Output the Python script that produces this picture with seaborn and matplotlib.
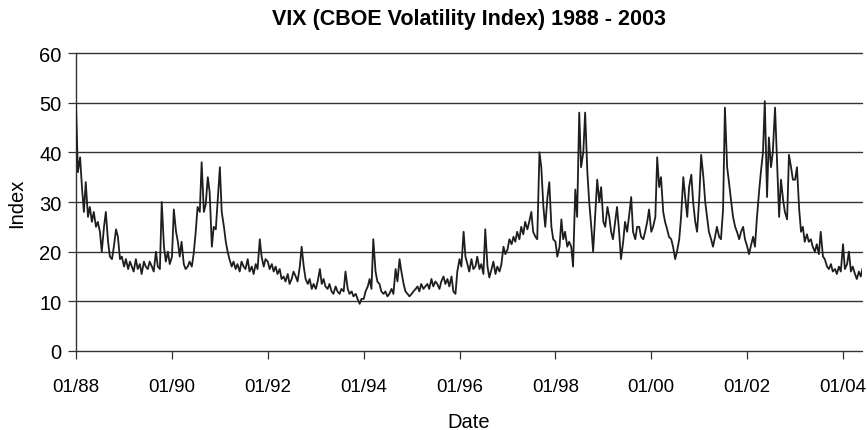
import pandas as pd
import matplotlib
matplotlib.use("Agg")
import matplotlib.pyplot as plt
import matplotlib.dates as mdates
import seaborn as sns

vix_1988 = [49.5, 36, 39, 33, 28, 34, 27, 29, 26, 28, 25, 26, 24, 20, 25, 28, 22, 19, 18.5, 21, 24.5, 23, 18.5, 19]
vix_1989 = [17, 18.5, 16.5, 18, 17, 16, 18.5, 16.5, 17.5, 15.5, 18, 17, 16.5, 18, 17, 16, 20, 17, 16.5, 30, 21, 18, 20, 17.5]
vix_1990 = [19, 28.5, 24, 22, 19, 22, 17.5, 16.5, 17, 18, 17, 19.5, 24, 29, 28, 38, 28, 29.5, 35, 32, 21, 25, 24.5, 30]
vix_1991 = [37, 28, 25, 22, 20, 18.5, 17, 18, 16.5, 17.5, 16, 18, 17, 16.5, 18.5, 16, 17, 15.5, 17.5, 16.5, 22.5, 19, 17, 18.5]
vix_1992 = [18, 16.5, 17.5, 16, 17, 15.5, 16.5, 14.5, 15, 14, 15.5, 13.5, 14.5, 16, 15, 14, 17, 21, 17, 14.5, 13.5, 14.5, 12.5, 13.5]
vix_1993 = [12.5, 14, 16.5, 13.5, 14.5, 13, 12.5, 13.5, 12, 11.5, 13, 12, 11.5, 12.5, 12, 16, 12.5, 11.5, 12, 11, 11.5, 10.5, 9.5, 10.5]
vix_1994 = [10.5, 12, 13, 14.5, 12.5, 22.5, 16, 14, 13.5, 12, 11.5, 12, 11, 11.5, 12.5, 11.5, 16.5, 14, 18.5, 16, 13.5, 12, 11.5, 11]
vix_1995 = [11.5, 12, 12.5, 13, 12, 13.5, 12.5, 13, 13.5, 12.5, 14.5, 13, 14, 13.5, 12.5, 14, 15, 13.5, 14.5, 13, 15, 12, 11.5, 16]
vix_1996 = [18.5, 17, 24, 19, 17.5, 16, 18.5, 16.5, 17, 19, 16.5, 17.5, 15.5, 24.5, 17, 14.8, 16.5, 18, 15.5, 17, 16, 17.5, 21, 19.5]
vix_1997 = [20.5, 22.5, 21.5, 23, 22, 24, 22.5, 25, 23.5, 26, 24.5, 26, 28, 24, 23, 22.5, 40, 37, 29, 25, 31, 34, 25, 22.5]
vix_1998 = [22, 19, 21, 26.5, 22.5, 24, 21, 22, 21, 17, 32.5, 27, 48, 37, 40, 48, 36, 30, 25, 20, 28, 34.5, 30, 33]
vix_1999 = [26, 25, 29, 27, 24, 22.5, 26, 29, 24, 18.5, 22, 26, 24, 27, 31, 24, 22.5, 25, 25, 23, 22.5, 24, 26, 28.5]
vix_2000 = [24, 25, 27, 39, 33, 35, 28, 26, 24.5, 23, 22.5, 21, 18.5, 20, 22.5, 27, 35, 31, 27, 33, 35.5, 30, 26, 24]
vix_2001 = [31, 39.5, 35, 30, 27, 24, 22.5, 21, 23, 25, 23, 22.5, 28.5, 49, 37, 34, 30, 27, 25, 24, 22.5, 24, 25, 22.5]
vix_2002 = [21, 19.5, 21.5, 23, 21, 26.5, 32, 36, 40, 50.3, 31, 43, 37, 40, 49, 39, 27, 34.5, 30.5, 28, 26.5, 39.5, 37, 34.5]
vix_2003 = [34.5, 37, 28.5, 24, 25, 22, 23.5, 22, 22.5, 21, 20, 21.5, 19.5, 24, 19, 18.5, 17, 16.5, 17.5, 16, 16.5, 15.5, 17, 16]
vix_2004 = [21.5, 16.5, 17.5, 20, 16, 17, 15.5, 14.5, 16, 15, 17]

values = (vix_1988 + vix_1989 + vix_1990 + vix_1991 + vix_1992 + vix_1993 + vix_1994
          + vix_1995 + vix_1996 + vix_1997 + vix_1998 + vix_1999 + vix_2000 + vix_2001
          + vix_2002 + vix_2003 + vix_2004)
dates = pd.date_range("1988-01-01", periods=len(values), freq="SMS")
df = pd.DataFrame({"Date": dates, "Index": values})

tick_dates = pd.date_range("1988-01-01", "2004-01-01", freq="2YS")
y_ticks = [0, 10, 20, 30, 40, 50, 60]

sns.set_style("white")
plt.rcParams["font.family"] = ["Liberation Sans", "DejaVu Sans"]
plt.rcParams["text.color"] = "black"
plt.rcParams["xtick.color"] = "black"
plt.rcParams["ytick.color"] = "black"
plt.rcParams["axes.labelcolor"] = "black"

fig = plt.figure(figsize=(8.67, 4.31), dpi=100)
ax = fig.add_axes([0.0877, 0.1833, 0.9066, 0.6914])

for y in y_ticks:
    ax.axhline(y, color="#333333", lw=1.0, zorder=1, clip_on=False)

sns.lineplot(data=df, x="Date", y="Index", color="#1f1d1e", lw=1.3, ax=ax, zorder=3)

ax.set_ylim(0, 60)
ax.set_xlim(pd.Timestamp("1988-01-01"), pd.Timestamp("2004-05-25"))
ax.set_yticks(y_ticks)
ax.set_xticks(tick_dates)
ax.xaxis.set_major_formatter(mdates.DateFormatter("%m/%y"))

for s in ["top", "right", "bottom"]:
    ax.spines[s].set_visible(False)
ax.spines["left"].set_color("#333333")
ax.spines["left"].set_linewidth(1.0)

ax.tick_params(axis="x", direction="out", length=5.5, width=0.9, color="#333333",
               pad=14, labelsize=13.5)
ax.tick_params(axis="y", direction="out", length=5.5, width=0.9, color="#333333",
               pad=5, labelsize=14.5)
ax.tick_params(left=True, bottom=True)

ax.set_xlabel("Date", fontsize=14.5, labelpad=12)
ax.set_ylabel("Index", fontsize=14.5, labelpad=9)
ax.set_title("VIX (CBOE Volatility Index) 1988 - 2003", fontsize=15.5,
             fontweight="bold", pad=21)

plt.savefig("out.png", dpi=100)
